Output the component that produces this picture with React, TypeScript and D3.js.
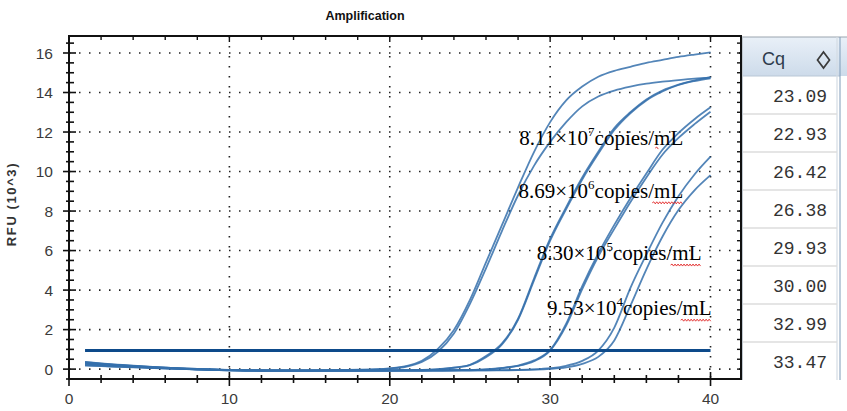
import React from 'react';
import * as d3 from 'd3';

// cycle numbers on the x axis
const cycles = [
  1, 2, 3, 4, 5, 6, 7, 8, 9, 10, 11, 12, 13, 14, 15, 16, 17, 18, 19, 20,
  21, 22, 23, 24, 25, 26, 27, 28, 29, 30, 31, 32, 33, 34, 35, 36, 37, 38, 39, 40,
];

// RFU (x10^3) per cycle
const wellA = [
  0.36, 0.29, 0.23, 0.17, 0.12, 0.08, 0.04, 0.01, -0.02, -0.04, -0.05, -0.06, -0.06, -0.06, -0.06, -0.05, -0.04, -0.03, -0.01,
  0.04, 0.15, 0.42, 1.02, 1.98, 3.5, 5.4, 7.3, 9.2, 11.0, 12.5, 13.6, 14.3, 14.8, 15.1, 15.3, 15.5, 15.65, 15.8, 15.92, 16.03,
];
const wellB = [
  0.30, 0.24, 0.19, 0.14, 0.10, 0.06, 0.03, 0.00, -0.03, -0.05, -0.06, -0.07, -0.07, -0.07, -0.07, -0.06, -0.05, -0.04, -0.02,
  0.03, 0.12, 0.36, 0.88, 1.8, 3.3, 5.1, 7.0, 8.8, 10.3, 11.5, 12.5, 13.3, 13.8, 14.1, 14.3, 14.45, 14.55, 14.63, 14.7, 14.75,
];
const wellC = [
  0.25, 0.20, 0.16, 0.12, 0.08, 0.05, 0.02, -0.01, -0.04, -0.06, -0.07, -0.08, -0.08, -0.08, -0.08, -0.08, -0.07, -0.07, -0.06,
  -0.06, -0.05, -0.04, 0.0, 0.08, 0.22, 0.66, 1.3, 2.55, 4.6, 6.6, 8.2, 9.7, 11.0, 12.2, 13.0, 13.65, 14.1, 14.4, 14.62, 14.78,
];
const wellD = [
  0.20, 0.16, 0.13, 0.10, 0.07, 0.04, 0.01, -0.02, -0.04, -0.06, -0.07, -0.08, -0.08, -0.08, -0.08, -0.08, -0.08, -0.07, -0.07,
  -0.06, -0.05, -0.04, -0.01, 0.07, 0.2, 0.6, 1.25, 2.5, 4.5, 6.5, 8.1, 9.6, 10.9, 12.1, 12.95, 13.6, 14.05, 14.38, 14.58, 14.72,
];
const wellE = [
  0.33, 0.26, 0.20, 0.15, 0.11, 0.07, 0.03, 0.00, -0.03, -0.05, -0.06, -0.07, -0.08, -0.08, -0.08, -0.08, -0.08, -0.08, -0.08,
  -0.07, -0.07, -0.07, -0.06, -0.05, -0.04, -0.01, 0.06, 0.18, 0.44, 0.97, 2.3, 4.2, 5.85, 7.3, 8.65, 9.9, 11.1, 11.95, 12.65, 13.25,
];
const wellF = [
  0.28, 0.22, 0.17, 0.13, 0.09, 0.05, 0.02, -0.01, -0.03, -0.05, -0.07, -0.07, -0.08, -0.08, -0.08, -0.08, -0.08, -0.08, -0.08,
  -0.08, -0.07, -0.07, -0.06, -0.05, -0.04, -0.02, 0.05, 0.16, 0.40, 0.94, 2.2, 4.05, 5.7, 7.1, 8.45, 9.7, 10.85, 11.7, 12.4, 13.03,
];
const wellG = [
  0.18, 0.15, 0.12, 0.09, 0.06, 0.03, 0.01, -0.02, -0.04, -0.06, -0.07, -0.08, -0.08, -0.08, -0.08, -0.08, -0.08, -0.08, -0.08,
  -0.08, -0.08, -0.08, -0.07, -0.07, -0.06, -0.06, -0.05, -0.04, -0.01, 0.05, 0.17, 0.42, 0.94, 2.1, 4.1, 5.8, 7.4, 8.75, 9.85, 10.75,
];
const wellH = [
  0.35, 0.28, 0.22, 0.16, 0.11, 0.07, 0.04, 0.01, -0.02, -0.04, -0.06, -0.07, -0.07, -0.08, -0.08, -0.08, -0.08, -0.08, -0.08,
  -0.08, -0.08, -0.08, -0.08, -0.07, -0.07, -0.06, -0.06, -0.05, -0.03, 0.01, 0.09, 0.27, 0.62, 1.45, 3.2, 5.05, 6.7, 8.05, 9.05, 9.82,
];
const wells = [wellA, wellB, wellC, wellD, wellE, wellF, wellG, wellH];

const threshold = 0.94;
const cqValues = ['23.09', '22.93', '26.42', '26.38', '29.93', '30.00', '32.99', '33.47'];
const xTicks = [0, 10, 20, 30, 40];
const yTicks = [0, 2, 4, 6, 8, 10, 12, 14, 16];
const concMantissa = ['8.11', '8.69', '8.30', '9.53'];
const concExponent = ['7', '6', '5', '4'];

const W = 847;
const H = 411;
const x = d3.scaleLinear().domain([0, 41.9]).range([69, 741]);
const y = d3.scaleLinear().domain([-0.5, 16.86]).range([379, 36]);

// where each concentration label ends (cycle) and sits (RFU baseline)
const labelAnchors = [
  [38.3, 11.34],
  [38.3, 8.67],
  [39.44, 5.52],
  [40.07, 2.73],
];

function squiggle(x0: number, x1: number, yy: number) {
  let d = `M${x0},${yy}`;
  let up = true;
  for (let xx = x0 + 1.5; xx <= x1; xx += 1.5) {
    d += ` L${xx},${yy + (up ? -1 : 1)}`;
    up = !up;
  }
  return d;
}

export default function App() {
  const line = d3.line<number>()
    .x((_, i) => x(cycles[i]))
    .y(d => y(d))
    .curve(d3.curveMonotoneX);

  const xMinor = d3.range(0, 41, 2);
  const yMinor = d3.range(-0.5, 16.9, 0.5);
  const sans = '"Liberation Sans", Arial, sans-serif';

  return (
    <svg width={W} height={H} style={{ position: 'absolute', left: 0, top: 0, background: '#fff' }}>
      <defs>
        <linearGradient id="hdr" x1="0" y1="0" x2="0" y2="1">
          <stop offset="0" stopColor="#e9f0f8" />
          <stop offset="1" stopColor="#cddbea" />
        </linearGradient>
      </defs>
      <rect width={W} height={H} fill="#fff" />

      <text x={365} y={20} textAnchor="middle" fontFamily={sans} fontWeight="bold" fontSize={12.5} fill="#111">
        Amplification
      </text>
      <text transform="translate(16,204) rotate(-90)" textAnchor="middle" fontFamily={sans} fontWeight="bold"
        fontSize={13} letterSpacing={1.6} fill="#333">RFU (10^3)</text>

      {/* dotted grid */}
      {yTicks.map(t => (
        <line key={'gy' + t} x1={x(0)} x2={741} y1={y(t)} y2={y(t)} stroke="#222" strokeWidth={1.6} strokeDasharray="1.5 8.5" />
      ))}
      {xTicks.filter(t => t > 0).map(t => (
        <line key={'gx' + t} x1={x(t)} x2={x(t)} y1={36} y2={379} stroke="#222" strokeWidth={1.6} strokeDasharray="1.5 8.5" />
      ))}

      {/* curves */}
      {wells.map((w, i) => (
        <path key={'w' + i} d={line(w) || ''} fill="none" stroke="#3570ab" strokeWidth={1.8} strokeOpacity={0.85} />
      ))}
      <line x1={x(1)} x2={x(40)} y1={y(threshold)} y2={y(threshold)} stroke="#0d4a8a" strokeWidth={3} />

      {/* frame and ticks */}
      <rect x={69} y={36} width={672} height={343} fill="none" stroke="#111" strokeWidth={2} />
      {yMinor.map(t => {
        const major = Math.abs(t % 2) < 1e-6;
        return (
          <g key={'ty' + t}>
            <line x1={major ? 63 : 66} x2={major ? 76 : 74} y1={y(t)} y2={y(t)} stroke="#111" strokeWidth={1.6} />
            <line x1={737} x2={741} y1={y(t)} y2={y(t)} stroke="#111" strokeWidth={1.4} />
          </g>
        );
      })}
      {xMinor.map(t => {
        const major = t % 10 === 0;
        return (
          <g key={'tx' + t}>
            <line x1={x(t)} x2={x(t)} y1={major ? 372 : 375} y2={major ? 386 : 383} stroke="#111" strokeWidth={1.6} />
            <line x1={x(t)} x2={x(t)} y1={36} y2={major ? 42 : 40} stroke="#111" strokeWidth={1.4} />
          </g>
        );
      })}
      {yTicks.map(t => (
        <text key={'ly' + t} x={53} y={y(t)} dy="0.36em" textAnchor="end" fontFamily={sans} fontSize={15.5} fill="#3b3b3b">{t}</text>
      ))}
      {xTicks.map(t => (
        <text key={'lx' + t} x={x(t)} y={404} textAnchor="middle" fontFamily={sans} fontSize={15.5} fill="#3b3b3b">{t}</text>
      ))}

      {/* concentration labels */}
      {concMantissa.map((m, i) => {
        const ex = x(labelAnchors[i][0]);
        const by = y(labelAnchors[i][1]);
        return (
          <g key={'c' + i}>
            <text x={ex} y={by} textAnchor="end" fontFamily='"Liberation Serif", "Times New Roman", serif' fontSize={21} fill="#000">
              {m}×10<tspan dy={-9} fontSize={13}>{concExponent[i]}</tspan><tspan dy={9}>copies/mL</tspan>
            </text>
            {i > 0
              ? <path d={squiggle(ex - 31, ex, by + 5)} fill="none" stroke="#e02020" strokeWidth={0.9} />
              : <path d={squiggle(ex - 28, ex - 25, by + 3)} fill="none" stroke="#e02020" strokeWidth={0.9} />}
          </g>
        );
      })}

      {/* Cq table */}
      <rect x={742} y={37} width={105} height={39} fill="url(#hdr)" />
      <line x1={742} x2={847} y1={37} y2={37} stroke="#9aa4ae" strokeWidth={1} />
      <line x1={742} x2={840} y1={76} y2={76} stroke="#b9c7d6" strokeWidth={1.2} />
      <line x1={742.5} x2={742.5} y1={37} y2={380} stroke="#c0c8d0" strokeWidth={1} />
      <line x1={837} x2={837} y1={37} y2={380} stroke="#d4dce4" strokeWidth={1.2} />
      <line x1={840} x2={840} y1={37} y2={380} stroke="#7f9bb8" strokeWidth={1} />
      <text x={762} y={65} fontFamily={sans} fontSize={18} fill="#2d3b4c">Cq</text>
      <path d="M823.5,52 L829.5,60 L823.5,68 L817.5,60 Z" fill="none" stroke="#3a3a3a" strokeWidth={1.7} />
      {cqValues.map((v, i) => {
        const top = 76 + i * 38;
        return (
          <g key={'cq' + i}>
            {i < cqValues.length - 1 && (
              <line x1={743} x2={837} y1={top + 38} y2={top + 38} stroke="#dcdcdc" strokeWidth={1.6} />
            )}
            <text x={827} y={top + 25.5} textAnchor="end" fontFamily='"Liberation Mono", "DejaVu Sans Mono", monospace'
              fontSize={18} fill="#333">{v}</text>
          </g>
        );
      })}
    </svg>
  );
}
